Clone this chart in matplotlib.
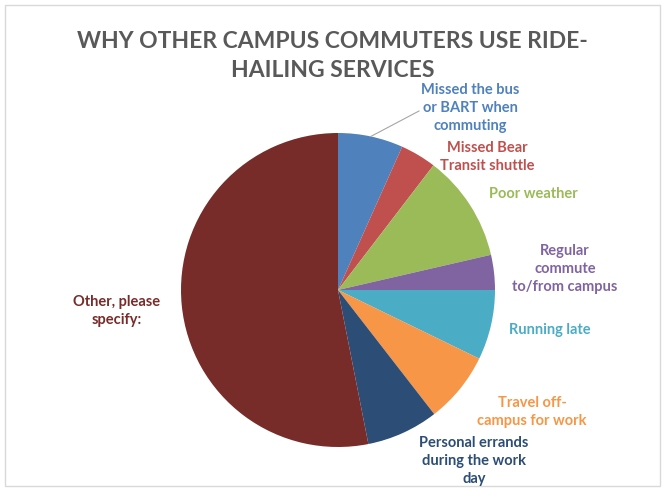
import numpy as np
import matplotlib
matplotlib.use("Agg")
import matplotlib.pyplot as plt
from matplotlib.patches import Rectangle

categories = [
    "Missed the bus\nor BART when\ncommuting",
    "Missed Bear\nTransit shuttle",
    "Poor weather",
    "Regular\ncommute\nto/from campus",
    "Running late",
    "Travel off-\ncampus for work",
    "Personal errands\nduring the work\nday",
    "Other, please\nspecify:",
]
values = [6.7, 3.7, 11.0, 3.6, 7.2, 7.3, 7.4, 53.1]
colors = ["#4F81BD", "#C0504D", "#9BBB59", "#8064A2", "#4BACC6",
          "#F79646", "#2C4D75", "#772C2A"]
title = "WHY OTHER CAMPUS COMMUTERS USE RIDE-\nHAILING SERVICES"

# label centre positions in pixels (x, y from top)
label_pos = [(470, 108), (487, 157), (533, 194), (565, 269), (550, 330),
             (532, 412), (474, 461), (117, 311)]

W, H = 665, 491
fig = plt.figure(figsize=(W / 100, H / 100), dpi=100)
fig.patch.set_facecolor("white")

def fx(x):
    return x / W

def fy(y):
    return 1 - y / H

# light border
fig.patches.append(Rectangle((fx(5), fy(486)), fx(655), 481 / H, transform=fig.transFigure,
                             fill=False, edgecolor="#D9D9D9", linewidth=1.0))

cx, cy, r = 338, 290, 157
ax = fig.add_axes([fx(cx - r), fy(cy + r), 2 * r / W, 2 * r / H])
wedges, _ = ax.pie(values, colors=colors, startangle=90, counterclock=False,
                   radius=1.0, wedgeprops=dict(linewidth=0))
ax.set_xlim(-1, 1)
ax.set_ylim(-1, 1)
ax.set_aspect("equal")
ax.axis("off")

font = "Lato"
fig.text(0.5, fy(56), title, ha="center", va="center", fontsize=16.5,
         fontweight="bold", color="#595959", family=font, linespacing=1.45)

for i, (lab, (x, y)) in enumerate(zip(categories, label_pos)):
    fig.text(fx(x), fy(y), lab, ha="center", va="center", fontsize=10.5,
             fontweight="bold", color=colors[i], family=font, linespacing=1.4)

# leader line for first slice
w0 = wedges[0]
ang = np.deg2rad((w0.theta1 + w0.theta2) / 2)
px = cx + r * np.cos(ang)
py = cy - r * np.sin(ang)
fig.add_artist(plt.Line2D([fx(px), fx(419)], [fy(py), fy(111)], transform=fig.transFigure,
                          color="#A6A6A6", linewidth=0.8))

fig.savefig("out.png", dpi=100, facecolor="white")
